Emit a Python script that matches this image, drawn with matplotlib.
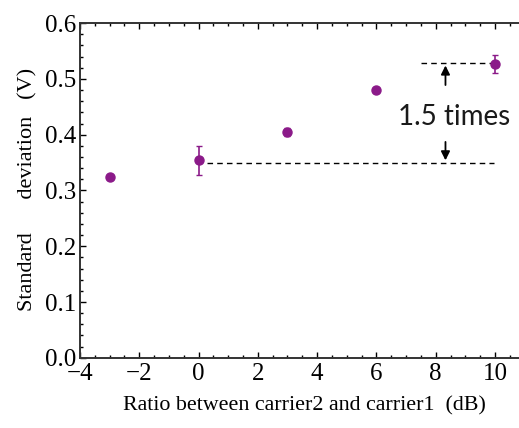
"""Standard deviation vs carrier ratio."""

import matplotlib.pyplot as plt
from matplotlib.ticker import MultipleLocator

ratio_db = [-3, 0, 3, 6, 10]
std_dev = [0.325, 0.354, 0.405, 0.480, 0.526]
std_err = [0.0, 0.026, 0.007, 0.0, 0.016]

POINT_COLOR = "#8B1A89"
SERIF = ["Liberation Serif", "DejaVu Serif"]

fig = plt.figure(figsize=(5.19, 4.28), dpi=100)
ax = fig.add_axes([0.154, 0.164, 0.846, 0.782])

ax.errorbar(
    ratio_db, std_dev, yerr=std_err,
    fmt="o", color=POINT_COLOR, markersize=6.5, elinewidth=1.2, capsize=2.5,
    capthick=1.0, zorder=3,
)

# 1.5x annotation
ax.hlines(std_dev[1] - 0.005, 0.3, 9.95, colors="black", linestyles=(0, (4, 3)), linewidth=1.0)
ax.hlines(std_dev[4] + 0.003, 7.5, 9.9, colors="black", linestyles=(0, (4, 3)), linewidth=1.0)
ax.annotate("", xy=(8.33, 0.529), xytext=(8.33, 0.484),
            arrowprops=dict(arrowstyle="-|>", color="black", lw=1.3, mutation_scale=13))
ax.annotate("", xy=(8.33, 0.349), xytext=(8.33, 0.392),
            arrowprops=dict(arrowstyle="-|>", color="black", lw=1.3, mutation_scale=13))
ax.text(8.62, 0.431, "1.5 times", ha="center", va="center", fontsize=20,
        family=["Lato", "DejaVu Sans"], color="#1a1a1a")

ax.set_xlim(-4, 10.81)
ax.set_ylim(0, 0.6)
ax.xaxis.set_major_locator(MultipleLocator(2))
ax.xaxis.set_minor_locator(MultipleLocator(0.5))
ax.yaxis.set_major_locator(MultipleLocator(0.1))
ax.yaxis.set_minor_locator(MultipleLocator(0.02))
ax.tick_params(which="both", direction="in", top=True, right=False, width=1.0)
ax.tick_params(which="major", length=4, labelsize=18)
ax.tick_params(axis="y", which="major", pad=3)
ax.tick_params(axis="x", which="major", pad=4)
ax.tick_params(which="minor", length=2)
ax.spines["right"].set_visible(False)
for side in ("left", "bottom", "top"):
    ax.spines[side].set_linewidth(1.4)
    ax.spines[side].set_color("#333333")

ax.set_xticks([-4, -2, 0, 2, 4, 6, 8, 10])
ax.set_xticklabels(["\u22124", "\u22122", "0", "2", "4", "6", "8", "10"])
ax.set_yticks([0, 0.1, 0.2, 0.3, 0.4, 0.5, 0.6])
ax.set_yticklabels(["0.0", "0.1", "0.2", "0.3", "0.4", "0.5", "0.6"])
for lbl in ax.get_xticklabels() + ax.get_yticklabels():
    lbl.set_family(SERIF)

ax.set_xlabel("Ratio between carrier2 and carrier1  (dB)", fontsize=15.8, family=SERIF)
ax.xaxis.set_label_coords(0.512, -0.116)
ax.set_ylabel("Standard      deviation   (V)", fontsize=16, family=SERIF)
ax.yaxis.set_label_coords(-0.097, 0.504)

fig.savefig("out.png", dpi=100)
